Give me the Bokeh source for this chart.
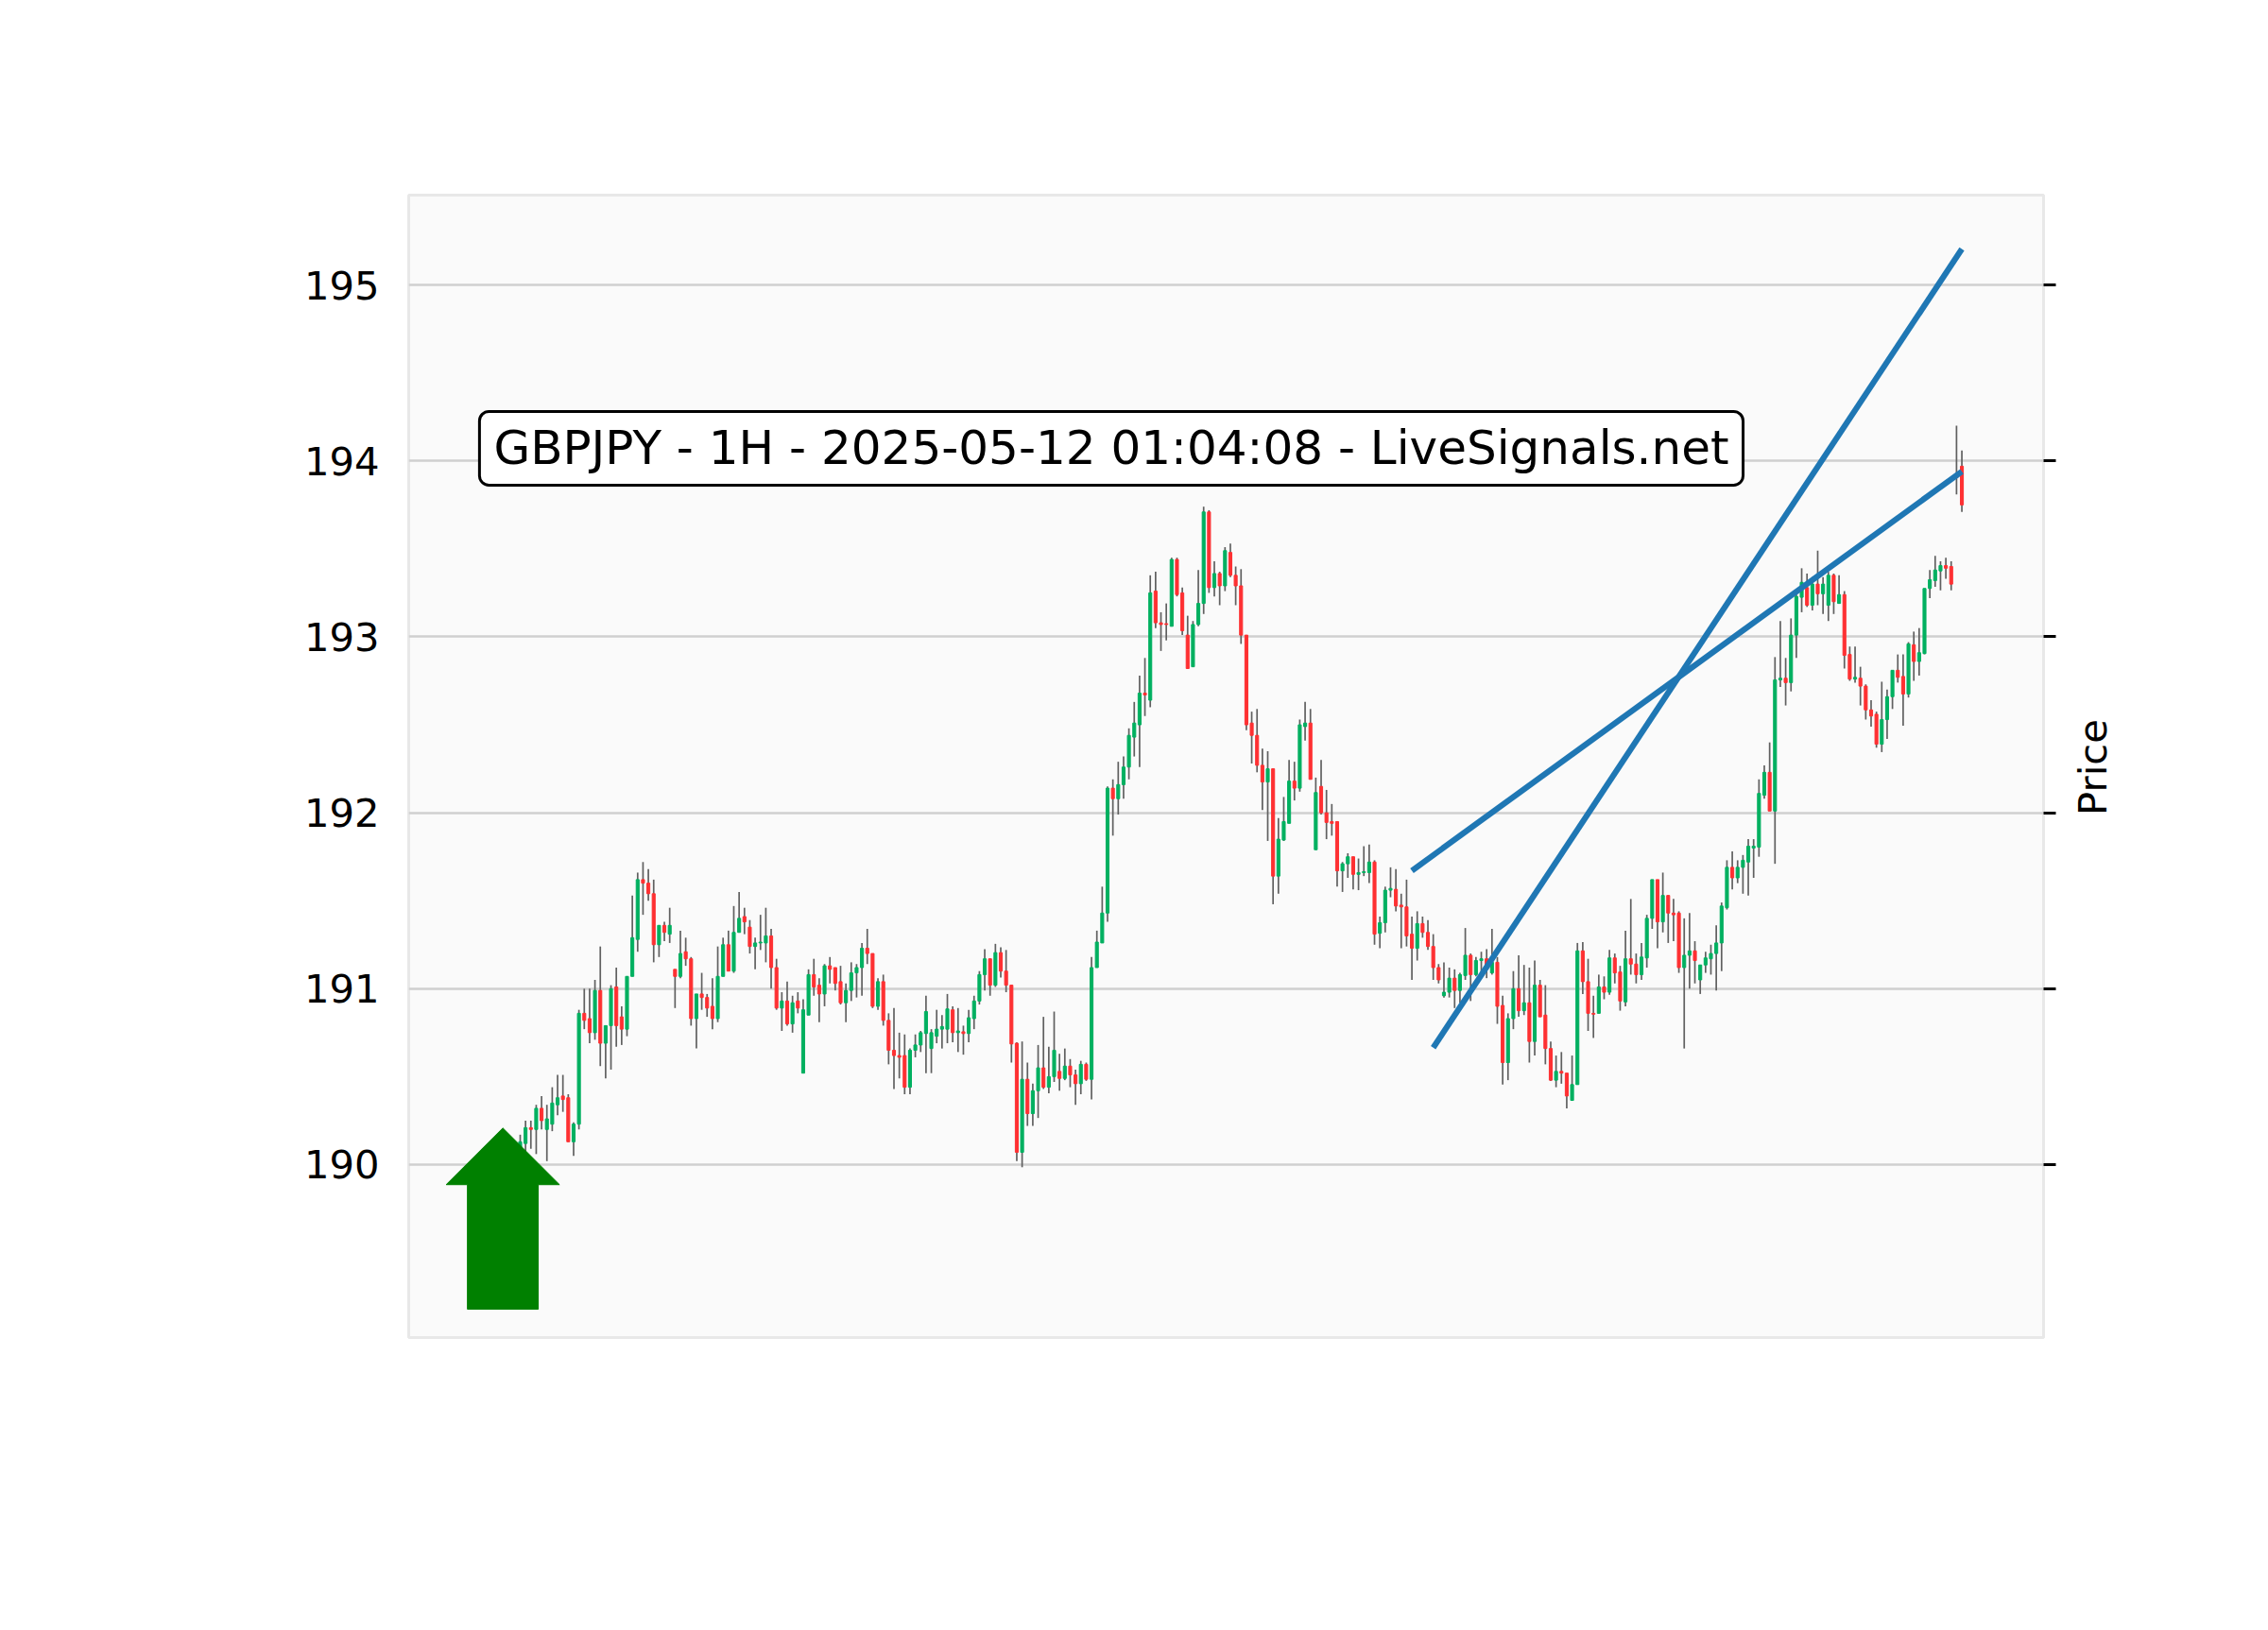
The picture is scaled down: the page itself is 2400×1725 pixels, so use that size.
import math
from bokeh.plotting import figure
from bokeh.layouts import row
from bokeh.models import (ColumnDataSource, Range1d, LinearAxis, FixedTicker, Label,
                          CustomJSTickFormatter, Grid)
from bokeh.core.properties import value
from bokeh.embed import file_html
from bokeh.resources import INLINE

# ---------------- data ----------------
title_text = "GBPJPY - 1H - 2025-05-12 01:04:08 - LiveSignals.net"
y_axis_label = "Price"
y_ticks = [190, 191, 192, 193, 194, 195]

opens = [
    190.06, 190.12, 190.21, 190.20, 190.32, 190.20, 190.23, 190.34, 190.39, 190.38,
    190.13, 190.23, 190.86, 190.83, 190.75, 190.99, 190.69, 190.79, 191.01, 190.84,
    190.77, 191.07, 191.28, 191.62, 191.60, 191.54, 191.25, 191.36, 191.31, 191.11,
    191.07, 191.21, 191.17, 190.83, 190.97, 190.95, 190.90, 190.83, 191.07, 191.25,
    191.10, 191.32, 191.41, 191.35, 191.24, 191.26, 191.26, 191.30, 191.12, 190.89,
    190.93, 190.80, 190.93, 190.52, 190.85, 191.08, 191.02, 190.97, 191.13, 191.12,
    191.04, 190.92, 190.99, 191.09, 191.12, 191.23, 191.20, 190.90, 191.04, 190.82,
    190.65, 190.62, 190.62, 190.44, 190.65, 190.68, 190.745, 190.66, 190.73, 190.77,
    190.77, 190.88, 190.75, 190.755, 190.745, 190.83, 190.93, 191.08, 191.17, 191.02,
    191.205, 191.10, 191.02, 190.69, 190.07, 190.485, 190.29, 190.42, 190.55, 190.44,
    190.50, 190.53, 190.49, 190.56, 190.51, 190.46, 190.57, 190.485, 191.12, 191.26,
    191.43, 192.14, 192.08, 192.16, 192.26, 192.43, 192.50, 192.68, 192.64, 193.26,
    193.08, 193.075, 193.06, 193.44, 193.25, 193.01, 192.83, 193.07, 193.19, 193.71,
    193.28, 193.36, 193.29, 193.48, 193.35, 193.29, 193.01, 192.51, 192.44, 192.27,
    192.175, 192.25, 191.64, 191.845, 191.94, 192.18, 192.14, 192.49, 192.51, 191.79,
    192.15, 192.00, 191.95, 191.95, 191.67, 191.71, 191.75, 191.65, 191.66, 191.66,
    191.72, 191.315, 191.375, 191.56, 191.565, 191.475, 191.465, 191.31, 191.23, 191.37,
    191.32, 191.24, 191.12, 190.96, 190.98, 191.06, 190.99, 191.075, 191.19, 191.08,
    191.16, 191.17, 191.09, 191.15, 190.905, 190.58, 190.83, 191.00, 190.875, 190.92,
    190.70, 191.02, 190.85, 190.66, 190.48, 190.53, 190.52, 190.365, 190.455, 191.215,
    191.04, 190.86, 190.86, 191.01, 190.98, 191.175, 191.095, 190.925, 191.17, 191.14,
    191.08, 191.175, 191.40, 191.62, 191.38, 191.53, 191.43, 191.43, 191.12, 191.19,
    191.215, 191.05, 191.135, 191.17, 191.20, 191.26, 191.46, 191.69, 191.63, 191.69,
    191.72, 191.80, 191.805, 192.10, 192.23, 192.01, 192.755, 192.765, 192.74, 193.01,
    193.225, 193.28, 193.18, 193.30, 193.245, 193.18, 193.35, 193.19, 193.24, 192.90,
    192.76, 192.765, 192.72, 192.585, 192.56, 192.39, 192.53, 192.66, 192.81, 192.775,
    192.675, 192.955, 192.86, 192.905, 193.275, 193.32, 193.375, 193.405, 193.40, 193.925,
    193.97,
]

highs = [
    190.17, 190.25, 190.25, 190.34, 190.39, 190.34, 190.44, 190.51, 190.51, 190.40,
    190.24, 190.88, 191.00, 191.00, 191.05, 191.24, 190.79, 191.02, 191.12, 190.90,
    191.07, 191.53, 191.66, 191.72, 191.68, 191.62, 191.36, 191.38, 191.46, 191.11,
    191.33, 191.29, 191.18, 190.97, 191.09, 190.97, 191.06, 191.24, 191.29, 191.33,
    191.47, 191.55, 191.46, 191.39, 191.29, 191.42, 191.46, 191.34, 191.17, 190.98,
    191.04, 190.96, 190.98, 190.94, 191.11, 191.17, 191.06, 191.14, 191.18, 191.12,
    191.13, 191.03, 191.15, 191.14, 191.26, 191.34, 191.20, 191.06, 191.08, 190.86,
    190.89, 190.75, 190.74, 190.66, 190.74, 190.76, 190.96, 190.77, 190.88, 190.85,
    190.97, 190.90, 190.89, 190.79, 190.88, 190.96, 191.10, 191.225, 191.17, 191.255,
    191.235, 191.22, 191.02, 190.695, 190.70, 190.58, 190.46, 190.68, 190.84, 190.67,
    190.87, 190.63, 190.66, 190.60, 190.54, 190.59, 190.58, 191.18, 191.33, 191.58,
    192.15, 192.19, 192.29, 192.32, 192.48, 192.63, 192.78, 192.88, 193.35, 193.37,
    193.14, 193.19, 193.45, 193.45, 193.28, 193.12, 193.09, 193.38, 193.74, 193.72,
    193.43, 193.37, 193.51, 193.53, 193.40, 193.385, 193.01, 192.575, 192.59, 192.365,
    192.35, 192.25, 191.97, 192.09, 192.30, 192.29, 192.53, 192.63, 192.59, 192.20,
    192.30, 192.13, 192.05, 191.95, 191.72, 191.77, 191.75, 191.74, 191.81, 191.82,
    191.73, 191.41, 191.58, 191.69, 191.68, 191.54, 191.62, 191.41, 191.44, 191.41,
    191.39, 191.31, 191.14, 191.15, 191.12, 191.11, 191.09, 191.345, 191.20, 191.18,
    191.21, 191.225, 191.34, 191.18, 190.96, 190.86, 191.10, 191.19, 191.135, 191.12,
    191.16, 191.05, 191.02, 190.70, 190.62, 190.64, 190.52, 190.62, 191.26, 191.265,
    191.17, 190.96, 191.08, 191.07, 191.22, 191.20, 191.13, 191.33, 191.51, 191.20,
    191.26, 191.42, 191.62, 191.62, 191.66, 191.53, 191.51, 191.44, 191.40, 191.43,
    191.27, 191.135, 191.21, 191.25, 191.36, 191.49, 191.73, 191.78, 191.73, 191.76,
    191.85, 191.85, 192.19, 192.27, 192.40, 192.885, 193.09, 192.88, 193.105, 193.25,
    193.39, 193.36, 193.34, 193.49, 193.34, 193.37, 193.36, 193.35, 193.26, 192.945,
    192.945, 192.83, 192.73, 192.64, 192.575, 192.745, 192.70, 192.81, 192.90, 192.90,
    192.97, 193.03, 193.05, 193.275, 193.38, 193.46, 193.43, 193.45, 193.43, 194.20,
    194.06,
]

lows = [
    190.02, 190.07, 190.09, 190.06, 190.20, 190.02, 190.19, 190.28, 190.30, 190.13,
    190.05, 190.20, 190.77, 190.69, 190.71, 190.56, 190.49, 190.54, 190.67, 190.68,
    190.73, 191.07, 191.21, 191.42, 191.50, 191.15, 191.18, 191.27, 191.26, 190.89,
    191.06, 191.13, 190.79, 190.66, 190.88, 190.84, 190.77, 190.81, 191.07, 191.10,
    191.09, 191.32, 191.31, 191.20, 191.11, 191.22, 191.15, 191.00, 190.88, 190.76,
    190.79, 190.75, 190.86, 190.52, 190.85, 190.96, 190.81, 190.90, 191.03, 190.99,
    190.91, 190.81, 190.93, 190.95, 190.96, 191.14, 190.89, 190.88, 190.79, 190.57,
    190.43, 190.49, 190.40, 190.40, 190.61, 190.64, 190.52, 190.52, 190.69, 190.66,
    190.69, 190.695, 190.64, 190.625, 190.695, 190.77, 190.91, 190.99, 190.96, 191.01,
    191.064, 190.98, 190.58, 190.02, 189.985, 190.22, 190.22, 190.265, 190.43, 190.405,
    190.47, 190.42, 190.48, 190.44, 190.34, 190.40, 190.476, 190.37, 191.12, 191.26,
    191.38, 191.87, 191.99, 192.08, 192.19, 192.32, 192.26, 192.55, 192.60, 193.05,
    192.92, 192.98, 193.06, 193.23, 193.01, 192.82, 192.83, 193.06, 193.13, 193.25,
    193.23, 193.18, 193.26, 193.34, 193.18, 192.96, 192.47, 192.28, 192.23, 192.015,
    191.84, 191.48, 191.54, 191.84, 191.94, 192.07, 192.12, 192.41, 192.19, 191.79,
    191.99, 191.85, 191.87, 191.58, 191.55, 191.63, 191.565, 191.56, 191.64, 191.60,
    191.25, 191.23, 191.32, 191.52, 191.44, 191.23, 191.24, 191.05, 191.16, 191.29,
    191.22, 191.05, 191.03, 190.95, 190.95, 190.89, 190.92, 191.05, 190.93, 191.07,
    191.07, 191.06, 191.08, 190.80, 190.455, 190.48, 190.77, 190.84, 190.85, 190.58,
    190.62, 190.84, 190.57, 190.475, 190.44, 190.46, 190.32, 190.365, 190.455, 190.97,
    190.76, 190.72, 190.86, 190.94, 190.965, 191.03, 190.875, 190.90, 191.08, 191.03,
    191.05, 191.12, 191.34, 191.23, 191.32, 191.26, 191.27, 191.09, 190.66, 191.00,
    191.03, 190.97, 191.09, 191.08, 190.99, 191.10, 191.45, 191.565, 191.60, 191.54,
    191.53, 191.63, 191.75, 192.08, 192.01, 191.71, 192.715, 192.61, 192.69, 192.88,
    193.14, 193.17, 193.15, 193.18, 193.13, 193.09, 193.13, 193.19, 192.82, 192.75,
    192.74, 192.61, 192.53, 192.49, 192.37, 192.345, 192.42, 192.59, 192.74, 192.495,
    192.655, 192.75, 192.78, 192.90, 193.22, 193.285, 193.265, 193.33, 193.265, 193.81,
    193.71,
]

closes = [
    190.13, 190.21, 190.20, 190.32, 190.25, 190.26, 190.35, 190.38, 190.37, 190.13,
    190.23, 190.86, 190.82, 190.75, 190.99, 190.69, 190.79, 191.00, 190.79, 190.77,
    191.07, 191.29, 191.62, 191.60, 191.54, 191.25, 191.36, 191.32, 191.36, 191.07,
    191.20, 191.17, 190.83, 190.97, 190.95, 190.89, 190.83, 191.07, 191.25, 191.10,
    191.32, 191.40, 191.38, 191.24, 191.26, 191.265, 191.30, 191.12, 190.89, 190.93,
    190.80, 190.92, 190.89, 190.88, 191.08, 191.01, 190.97, 191.13, 191.11, 191.03,
    190.92, 190.99, 191.09, 191.12, 191.23, 191.20, 190.90, 191.04, 190.82, 190.65,
    190.62, 190.61, 190.44, 190.65, 190.68, 190.75, 190.87, 190.75, 190.77, 190.785,
    190.885, 190.75, 190.76, 190.745, 190.835, 190.93, 191.08, 191.17, 191.02, 191.205,
    191.10, 191.02, 190.686, 190.07, 190.485, 190.29, 190.42, 190.55, 190.44, 190.50,
    190.65, 190.49, 190.56, 190.51, 190.46, 190.57, 190.485, 191.12, 191.265, 191.43,
    192.14, 192.08, 192.16, 192.26, 192.44, 192.51, 192.68, 192.67, 193.25, 193.08,
    193.07, 193.07, 193.44, 193.24, 193.035, 192.82, 193.07, 193.19, 193.71, 193.28,
    193.36, 193.29, 193.49, 193.35, 193.29, 193.01, 192.50, 192.44, 192.27, 192.175,
    192.25, 191.64, 191.85, 191.95, 192.18, 192.14, 192.50, 192.51, 192.19, 192.115,
    192.00, 191.945, 191.94, 191.67, 191.71, 191.75, 191.65, 191.66, 191.665, 191.72,
    191.31, 191.375, 191.56, 191.57, 191.47, 191.465, 191.30, 191.23, 191.37, 191.32,
    191.24, 191.12, 191.05, 190.98, 191.06, 190.99, 191.08, 191.19, 191.08, 191.16,
    191.17, 191.11, 191.15, 190.90, 190.58, 190.83, 191.00, 190.875, 190.92, 190.70,
    191.02, 190.84, 190.66, 190.48, 190.53, 190.52, 190.39, 190.455, 191.215, 191.04,
    190.86, 190.855, 191.01, 190.98, 191.175, 191.09, 190.93, 191.17, 191.14, 191.08,
    191.18, 191.40, 191.62, 191.38, 191.53, 191.43, 191.42, 191.12, 191.19, 191.215,
    191.16, 191.135, 191.175, 191.20, 191.26, 191.47, 191.69, 191.63, 191.69, 191.73,
    191.81, 191.81, 192.11, 192.23, 192.01, 192.755, 192.765, 192.74, 193.01, 193.23,
    193.31, 193.18, 193.30, 193.245, 193.30, 193.35, 193.20, 193.24, 192.895, 192.76,
    192.77, 192.72, 192.585, 192.55, 192.39, 192.53, 192.66, 192.81, 192.77, 192.675,
    192.96, 192.86, 192.91, 193.275, 193.325, 193.38, 193.405, 193.39, 193.30, 193.905,
    193.75,
]

# trend lines: (bar index, price) end points
trend1_x = [167, 270]
trend1_y = [191.671, 193.94]
trend2_x = [171, 270]
trend2_y = [190.665, 195.205]

# signal arrow (bar-index centre, prices of tip / head base / tail, half widths in bars)
arrow_center = -3.25
arrow_tip = 190.208
arrow_head_base = 189.886
arrow_tail = 189.178
arrow_head_half = 10.62
arrow_shaft_half = 6.63

# ---------------- figure ----------------
UP, DOWN, WICK = "#00b060", "#fe3032", "#606060"
FONT = "DejaVu Sans"
FIG_H = 1709
RIGHT_BORDER = 20

idx = list(range(len(opens)))
colors = [UP if c >= o else DOWN for o, c in zip(opens, closes)]
tops = [max(o, c) for o, c in zip(opens, closes)]
bottoms = [min(o, c) for o, c in zip(opens, closes)]
src = ColumnDataSource(dict(x=idx, h=highs, l=lows, top=tops, bottom=bottoms, color=colors))

p = figure(frame_width=1730, frame_height=1209,
           min_border_left=432, min_border_right=RIGHT_BORDER,
           min_border_top=206, min_border_bottom=FIG_H - 206 - 1209,
           x_range=Range1d(-20.88, 285.3), y_range=Range1d(189.017, 195.511),
           x_axis_type=None, y_axis_type=None,
           output_backend="svg", toolbar_location=None,
           background_fill_color="#fafafa", border_fill_color="white")
p.outline_line_color = "#e8e8e8"
p.outline_line_width = 3

ticker = FixedTicker(ticks=y_ticks)

left = LinearAxis(ticker=ticker)
left.axis_line_color = None
left.major_tick_out = 0
left.major_tick_in = 0
left.minor_tick_out = 0
left.minor_tick_in = 0
left.major_label_standoff = 31
left.major_label_text_font = FONT
left.major_label_text_font_size = "41.7px"
left.major_label_text_color = "black"
p.add_layout(left, "left")

# right axis: tick marks only
right = LinearAxis(ticker=ticker, formatter=CustomJSTickFormatter(code="return ''"))
right.axis_line_color = None
right.major_tick_out = 13
right.major_tick_in = 0
right.major_tick_line_width = 3
right.major_tick_line_color = "black"
right.minor_tick_out = 0
right.minor_tick_in = 0
right.major_label_standoff = 0
p.add_layout(right, "right")

p.add_layout(Grid(dimension=1, ticker=ticker, grid_line_color="#d0d0d0", grid_line_width=2.6))

p.segment(x0="x", y0="l", x1="x", y1="h", source=src, line_color=WICK, line_width=1.7)
p.vbar(x="x", width=0.55, top="top", bottom="bottom", source=src,
       fill_color="color", line_color="color", line_width=1)

p.line(trend1_x, trend1_y, line_color="#1f77b4", line_width=6.2)
p.line(trend2_x, trend2_y, line_color="#1f77b4", line_width=6.2)

ax = [arrow_center,
      arrow_center + arrow_head_half, arrow_center + arrow_shaft_half,
      arrow_center + arrow_shaft_half, arrow_center - arrow_shaft_half,
      arrow_center - arrow_shaft_half, arrow_center - arrow_head_half]
ay = [arrow_tip, arrow_head_base, arrow_head_base, arrow_tail, arrow_tail,
      arrow_head_base, arrow_head_base]
p.patch(ax, ay, fill_color="#008000", line_color="#008000", line_width=1)

p.add_layout(Label(x=110.7, y=194.072, text=title_text, text_font=FONT,
                   text_font_size="50px", text_align="center", text_baseline="middle",
                   text_color="black",
                   background_fill_color="white", border_line_color="black",
                   border_line_width=3, padding=(15, 10), border_radius=10))

# narrow companion panel carrying the y-axis title "Price" (reads bottom-to-top)
P2_W = 2384 - (432 + 1730 + RIGHT_BORDER)
p2 = figure(width=P2_W, height=FIG_H,
            x_range=Range1d(0, P2_W), y_range=Range1d(0, FIG_H),
            min_border=0, min_border_left=0, min_border_right=0,
            min_border_top=0, min_border_bottom=0,
            x_axis_type=None, y_axis_type=None,
            output_backend="svg", toolbar_location=None,
            background_fill_color="white", border_fill_color="white")
p2.outline_line_color = None
p2.text(x=[31.6], y=[FIG_H - 856], text=[y_axis_label], angle=math.pi / 2,
        text_font=value(FONT), text_font_size=value("41.7px"), text_color="black",
        text_align="center", text_baseline="middle")

layout = row(p, p2)
open("out.html", "w").write(file_html(layout, INLINE, title="GBPJPY"))
